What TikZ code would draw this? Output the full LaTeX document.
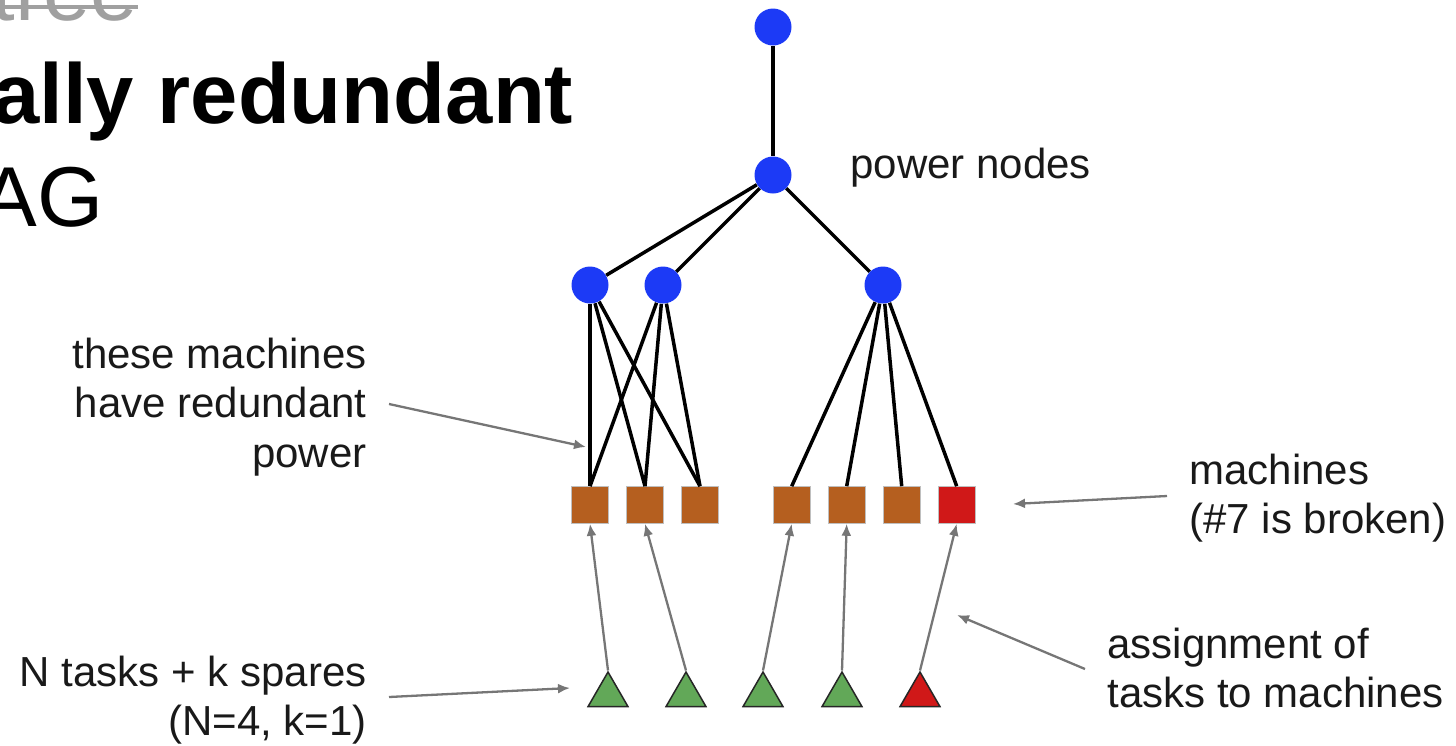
\documentclass[tikz,border=0pt]{standalone}
\usepackage{fontspec}
\setmainfont{Liberation Sans}
\usetikzlibrary{arrows.meta,shapes.geometric}
\definecolor{pblue}{RGB}{28,58,246}
\definecolor{morange}{RGB}{181,95,31}
\definecolor{mred}{RGB}{208,24,24}
\definecolor{tgreen}{RGB}{98,168,88}
\definecolor{agray}{RGB}{118,118,118}
\definecolor{sgray}{RGB}{160,160,160}
\definecolor{txt}{RGB}{25,25,25}
\begin{document}
\begin{tikzpicture}[x=0.5pt,y=-0.5pt,
  pnode/.style={circle,fill=pblue,minimum size=18.5pt,inner sep=0pt},
  mach/.style={rectangle,fill=morange,draw=black!25,line width=0.3pt,minimum size=18.5pt,inner sep=0pt},
  broken/.style={mach,fill=mred},
  task/.style={regular polygon,regular polygon sides=3,fill=tgreen,draw=black!85,line width=0.75pt,minimum size=23pt,inner sep=0pt},
  sparetask/.style={task,fill=mred},
  wire/.style={line width=1.75pt,black},
  garrow/.style={draw=agray,line width=1.15pt,-{Latex[length=6pt,width=5pt]}},
  lbl/.style={inner sep=0pt,font=\fontsize{21}{24.5}\selectfont,text=txt},
  bigtxt/.style={inner sep=0pt,font=\fontsize{42.5}{51}\selectfont}
]
\useasboundingbox (0,0) rectangle (1456,745);

% title fragments
\node[bigtxt,anchor=base west,text=sgray] (oldtitle) at (-9,20) {tree};
\draw[sgray,line width=2pt] (oldtitle.west |- 0,7) -- (138,7);
\node[bigtxt,anchor=base west,font=\bfseries\fontsize{42.5}{51}\selectfont] (title1) at (-8,123) {ally redundant};
\node[bigtxt,anchor=base east] (title2) at (104,226) {AG};

% power nodes
\node[pnode] (p0) at (773,27) {};
\node[pnode] (p1) at (773,175) {};
\node[pnode] (c1) at (590,285) {};
\node[pnode] (c2) at (663,285) {};
\node[pnode] (c3) at (883,285) {};

% machines
\node[mach] (m1) at (590,505) {};
\node[mach] (m2) at (645,505) {};
\node[mach] (m3) at (700,505) {};
\node[mach] (m4) at (791.7,505) {};
\node[mach] (m5) at (846.7,505) {};
\node[mach] (m6) at (901.7,505) {};
\node[broken] (m7) at (956.7,505) {};

% tasks
\node[task] (t1) at (608,695) {};
\node[task] (t2) at (686,695) {};
\node[task] (t3) at (763,695) {};
\node[task] (t4) at (842,695) {};
\node[sparetask] (t5) at (920,695) {};

% power wiring
\draw[wire] (p0) -- (p1);
\draw[wire] (p1) -- (c1);
\draw[wire] (p1) -- (c2);
\draw[wire] (p1) -- (c3);
\foreach \m in {m1,m2,m3} {
  \draw[wire] (c1) -- (\m.north);
  \draw[wire] (c2) -- (\m.north);
}
\foreach \m in {m4,m5,m6,m7} {
  \draw[wire] (c3) -- (\m.north);
}

% assignments
\draw[garrow] (t1.corner 1) -- (m1.south);
\draw[garrow] (t2.corner 1) -- (m2.south);
\draw[garrow] (t3.corner 1) -- (m4.south);
\draw[garrow] (t4.corner 1) -- (m5.south);
\draw[garrow] (t5.corner 1) -- (m7.south);

% labels
\node[lbl,anchor=base west] (lpow) at (850,178) {power nodes};
\node[lbl,anchor=base west] (lmach1) at (1189,484) {machines};
\node[lbl,anchor=base west] (lmach2) at (1189,533) {(\#7 is broken)};
\node[lbl,anchor=base west] (lasg1) at (1107,658) {assignment of};
\node[lbl,anchor=base west] (lasg2) at (1107,707) {tasks to machines};
\node[lbl,anchor=base east] (lred1) at (367,368) {these machines};
\node[lbl,anchor=base east] (lred2) at (367,417) {have redundant};
\node[lbl,anchor=base east] (lred3) at (367,467) {power};
\node[lbl,anchor=base east] (ltask1) at (367,686) {N tasks + k spares};
\node[lbl,anchor=base east] (ltask2) at (367,735) {(N=4, k=1)};

% annotation arrows
\coordinate (a1s) at (389,404);
\coordinate (a1e) at (586,447);
\coordinate (a2s) at (389,697);
\coordinate (a2e) at (570,688);
\coordinate (a3s) at (1167,496);
\coordinate (a3e) at (1013,504);
\coordinate (a4s) at (1085,669);
\coordinate (a4e) at (957,615);
\draw[garrow] (a1s) -- (a1e);
\draw[garrow] (a2s) -- (a2e);
\draw[garrow] (a3s) -- (a3e);
\draw[garrow] (a4s) -- (a4e);
\end{tikzpicture}
\end{document}
